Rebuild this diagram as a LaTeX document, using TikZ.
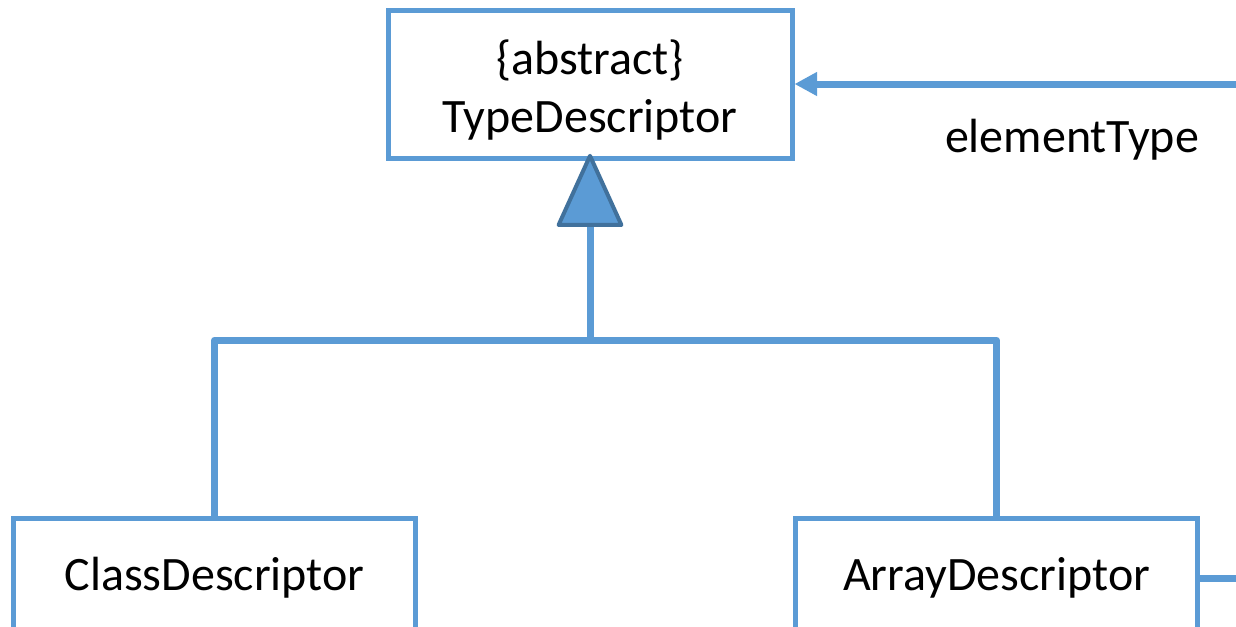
\documentclass[tikz,border=0pt]{standalone}
\usepackage{fontspec}
\setmainfont{Carlito}
\usetikzlibrary{arrows.meta}
\definecolor{umlblue}{HTML}{5B9BD5}
\definecolor{umldark}{HTML}{41719C}
\tikzset{
  umlfont/.style={font=\fontsize{36}{44}\selectfont},
  classbox/.style={draw=umlblue, line width=3.75pt, fill=white, inner sep=0pt,
    umlfont, align=center},
  link/.style={draw=umlblue, line width=5.25pt},
  gentip/.style={-{Triangle[length=57pt, width=51pt, fill=umlblue, color=umldark, line width=3pt, round]}, shorten >=-5pt},
  assoctip/.style={-{Triangle[length=17pt, width=17pt, fill=umlblue, color=umlblue]}}
}
\begin{document}
\begin{tikzpicture}[x=0.75pt, y=-0.75pt]
  \useasboundingbox (0,0) rectangle (1236,626);
  % classes
  \node[classbox, minimum width=303pt, minimum height=111pt] (type) at (590,84)
    {\rule{0pt}{35pt}\{abstract\}\\TypeDescriptor};
  \node[classbox, minimum width=301pt, minimum height=90pt] (class) at (214.5,578) {ClassDescriptor};
  \node[classbox, minimum width=302pt, minimum height=90pt] (array) at (996.5,578) {ArrayDescriptor};
  % generalization
  \coordinate (bar) at (590,340);
  \draw[link, line join=round] (class.north) |- (bar) -| (array.north);
  \draw[link, gentip] (bar) -- (type.south);
  % association elementType
  \draw[link, assoctip] (array.east) -- ++(80,0) |- (type.east);
  \node[umlfont] (lbl) at (1072,140) {elementType};
\end{tikzpicture}
\end{document}
